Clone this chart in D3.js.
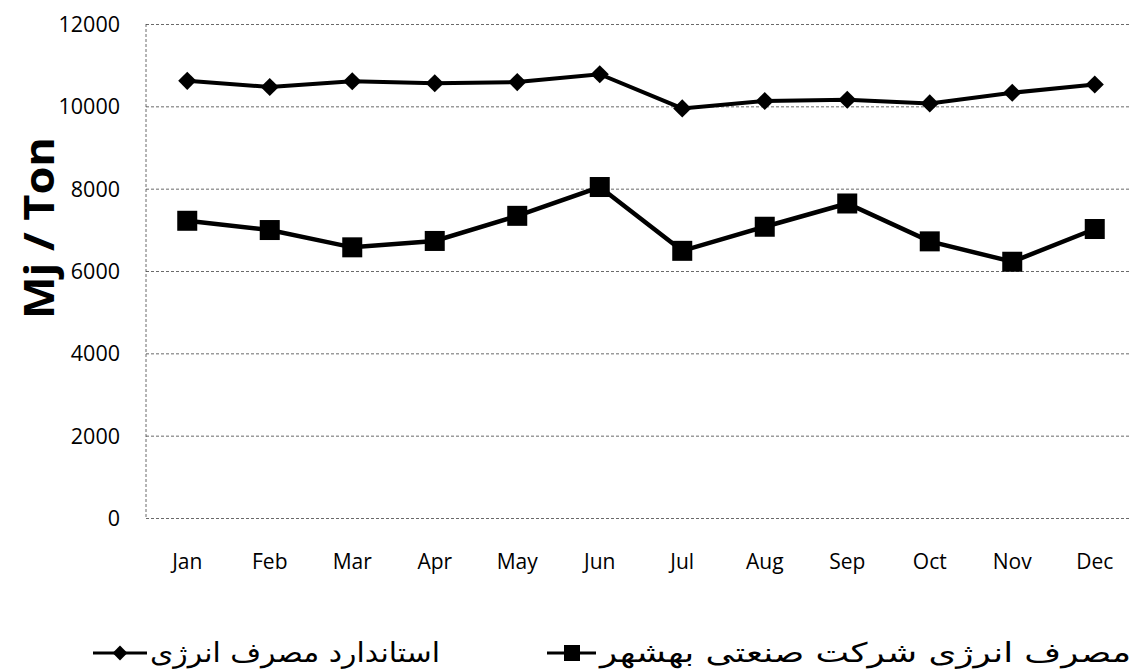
<!DOCTYPE html>
<html><head><meta charset="utf-8">
<script src="https://cdn.jsdelivr.net/npm/d3@7"></script>
<style>html,body{margin:0;padding:0;background:#fff;overflow:hidden}</style>
</head><body>
<svg id="c" width="1131" height="671"></svg>
<script>
const months = ["Jan","Feb","Mar","Apr","May","Jun","Jul","Aug","Sep","Oct","Nov","Dec"];
const standardValues = [10620,10470,10610,10560,10590,10780,9950,10130,10160,10070,10330,10530];
const companyValues = [7220,6995,6575,6730,7340,8040,6490,7075,7640,6720,6225,7020];
const yTicks = [0,2000,4000,6000,8000,10000,12000];
const standardLabel = "استاندارد مصرف انرژی";
const companyLabel = "مصرف انرژی شرکت صنعتی بهشهر";
const yTitle = "Mj / Ton";

(function(){
const svg = d3.select("#c");
const pl = 146, pr = 1136, pt = 24, pb = 518;
const x = d3.scaleBand().domain(months).range([pl, pr]);
const y = d3.scaleLinear().domain([0,12000]).range([pb, pt]);

// gridlines
const grid = svg.append("g")
  .attr("transform", `translate(${pl},0)`)
  .call(d3.axisLeft(y).tickValues(yTicks).tickSize(-(1131-pl)).tickFormat(""));
grid.select(".domain").remove();
grid.selectAll("line").attr("stroke","#444").attr("stroke-width",0.8).attr("stroke-dasharray","3,2");

// left axis line
svg.append("line").attr("x1",pl).attr("x2",pl).attr("y1",pt).attr("y2",pb)
  .attr("stroke","#444").attr("stroke-width",0.8).attr("stroke-dasharray","3,2");

// y tick labels
const yAx = svg.append("g").attr("transform",`translate(${pl-26},0)`)
  .call(d3.axisLeft(y).tickValues(yTicks).tickSize(0).tickFormat(d3.format("d")));
yAx.select(".domain").remove();
yAx.selectAll("text").attr("font-family","'Open Sans', sans-serif").attr("font-size",21.5)
  .attr("fill","#000").attr("x",0).attr("dy","0.35em");

// x labels
const xAx = svg.append("g").attr("transform",`translate(0,${pb})`)
  .call(d3.axisBottom(x).tickSize(0));
xAx.select(".domain").remove();
xAx.selectAll("text").attr("font-family","'Open Sans', sans-serif").attr("font-size",21)
  .attr("fill","#000").attr("y",44).attr("dy","0.35em");

// y title
svg.append("text").attr("transform","translate(54,228) rotate(-90)")
  .attr("text-anchor","middle").attr("font-family","'Open Sans', sans-serif")
  .attr("font-weight","bold").attr("font-size",42).attr("fill","#000")
  .attr("textLength",182).attr("lengthAdjust","spacingAndGlyphs").text(yTitle);

const cx = d => x(d) + x.bandwidth()/2;
const line = d3.line().x((d,i)=>cx(months[i])).y(d=>y(d));

// company series
svg.append("path").datum(companyValues).attr("d",line).attr("fill","none")
  .attr("stroke","#000").attr("stroke-width",4.5);
svg.selectAll(".sq").data(companyValues).enter().append("rect")
  .attr("x",(d,i)=>cx(months[i])-10).attr("y",d=>y(d)-10)
  .attr("width",20).attr("height",20).attr("fill","#000");

// standard series
svg.append("path").datum(standardValues).attr("d",line).attr("fill","none")
  .attr("stroke","#000").attr("stroke-width",4);
svg.selectAll(".dm").data(standardValues).enter().append("path")
  .attr("d",d3.symbol().type(d3.symbolSquare).size(165))
  .attr("transform",(d,i)=>`translate(${cx(months[i])},${y(d)}) rotate(45)`).attr("fill","#000");

// legend
const ly = 653;
svg.append("line").attr("x1",93).attr("x2",147).attr("y1",ly).attr("y2",ly).attr("stroke","#000").attr("stroke-width",3);
svg.append("path").attr("d",d3.symbol().type(d3.symbolSquare).size(110))
  .attr("transform",`translate(120,${ly}) rotate(45)`).attr("fill","#000");
svg.append("text").attr("x",150).attr("y",ly).attr("dy","0.35em")
  .attr("font-family","'DejaVu Sans', sans-serif").attr("font-size",27).attr("fill","#000")
  .attr("textLength",290).attr("lengthAdjust","spacingAndGlyphs").text(standardLabel);

svg.append("line").attr("x1",547).attr("x2",596).attr("y1",ly).attr("y2",ly).attr("stroke","#000").attr("stroke-width",3);
svg.append("rect").attr("x",564).attr("y",ly-8).attr("width",16).attr("height",16).attr("fill","#000");
svg.append("text").attr("x",600).attr("y",ly).attr("dy","0.35em")
  .attr("font-family","'DejaVu Sans', sans-serif").attr("font-size",27).attr("fill","#000")
  .attr("textLength",531).attr("lengthAdjust","spacingAndGlyphs").text(companyLabel);
})();
</script>
</body></html>
